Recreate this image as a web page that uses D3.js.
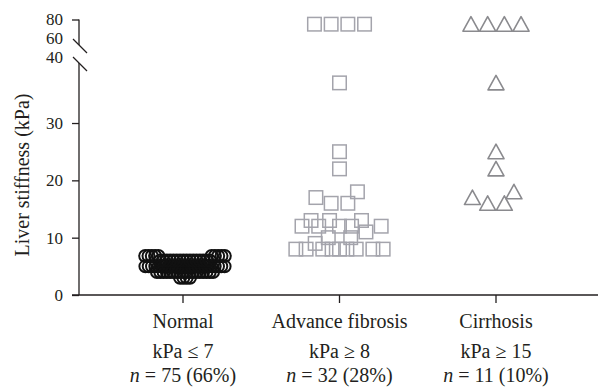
<!DOCTYPE html>
<html>
<head>
<meta charset="utf-8">
<script src="https://cdn.jsdelivr.net/npm/d3@7"></script>
<style>
  body { margin: 0; background: #fff; }
  svg { display: block; font-family: "Liberation Serif", "Times New Roman", serif; }
</style>
</head>
<body>
<svg id="chart" width="598" height="388"></svg>
<script>
// groups and their labels
const categories = ["Normal", "Advance fibrosis", "Cirrhosis"];
const thresholds = ["kPa \u2264 7", "kPa \u2265 8", "kPa \u2265 15"];
const counts = ["75 (66%)", "32 (28%)", "11 (10%)"];

// liver stiffness values (kPa)
const normalValues = [
  3, 3, 3, 3,
  4, 4, 4, 4, 4, 4, 4, 4, 4, 4, 4, 4, 4, 4, 4, 4, 4, 4,
  5, 5, 5, 5, 5, 5, 5, 5, 5, 5, 5, 5, 5, 5, 5, 5, 5, 5, 5, 5, 5, 5, 5, 5, 5,
  6, 6, 6, 6, 6, 6, 6, 6, 6, 6, 6, 6, 6, 6, 6, 6,
  6.8, 6.8, 6.8, 6.8, 6.8, 6.8, 6.8, 6.8, 6.8, 6.8
];
const fibrosisValues = [
  8, 8, 8, 8, 8, 8, 8, 8, 8, 9, 10, 10, 11, 12, 12, 12, 12, 12,
  13, 13, 13, 16, 16, 17, 18, 22, 25, 37, 75, 75, 75, 75
];
const cirrhosisValues = [16, 16, 17, 18, 22, 25, 37, 75, 75, 75, 75];

const yTicksLow = [0, 10, 20, 30];
const yTicksHigh = [40, 60, 80];

const svg = d3.select("#chart");
const ink = "#231f20";

const x = d3.scalePoint().domain(categories).range([183, 496]);
// broken y axis: lower part 0-40, upper part 40-80
const yLow = d3.scaleLinear().domain([0, 40]).range([295, 65.7]);
const yHigh = d3.scaleLinear().domain([40, 80]).range([57, 19.5]);
const yOf = v => v > 40 ? yHigh(v) : yLow(v);
const axisX = 79;

// dodge layout: each point goes to the nearest free x (elliptic spacing dx/dy),
// spacing shrinks when the column would get too wide
function dodge(values, DX, DY, maxHalf) {
  const sorted = values.slice().sort((a, b) => a - b);
  const rowCount = d3.rollup(sorted, v => v.length, d => d);
  const placed = [];
  for (const v of sorted) {
    const y = yOf(v);
    const n = rowCount.get(v);
    let k = 1, px;
    while (true) {
      const Dx = DX * k, Dy = DY * k;
      const bias = n % 2 === 0 ? -Dx / 2 : 0;
      const iv = [];
      for (const p of placed) {
        const dy = Math.abs(p.y - y);
        if (dy < Dy) {
          const w = Dx * Math.sqrt(1 - (dy / Dy) ** 2);
          iv.push([p.dx - w, p.dx + w]);
        }
      }
      const cands = [bias];
      iv.forEach(([a, b]) => cands.push(a, b));
      const free = cands.filter(c => iv.every(([a, b]) => c <= a + 1e-6 || c >= b - 1e-6));
      const rowSum = d3.sum(placed.filter(p => p.v === v), p => p.dx);
      free.sort((a, b) => {
        const da = Math.abs(a - bias), db = Math.abs(b - bias);
        if (Math.abs(da - db) > 1e-6) return da - db;
        return rowSum < 0 ? b - a : a - b;
      });
      px = free[0];
      if (Math.abs(px) <= maxHalf || k < 0.1) break;
      k *= 0.85;
    }
    placed.push({ v, dx: px, y });
  }
  return placed;
}

// axes
const gLow = svg.append("g").attr("transform", `translate(${axisX},0)`)
  .call(d3.axisLeft(yLow).tickValues(yTicksLow).tickSize(7).tickPadding(9));
const gHigh = svg.append("g").attr("transform", `translate(${axisX},0)`)
  .call(d3.axisLeft(yHigh).tickValues(yTicksHigh).tickSize(7).tickPadding(9));
gHigh.selectAll(".tick").filter(d => d !== 80).select("line").remove();
[gLow, gHigh].forEach(g => {
  g.select(".domain").remove();
  g.selectAll("line").attr("stroke", ink).attr("stroke-width", 1.3);
  g.selectAll("text").attr("fill", ink).style("font-size", "17px")
    .style("font-family", "'Liberation Serif', serif");
});

const axisLine = svg.append("g").attr("stroke", ink).attr("stroke-width", 1.3).attr("fill", "none");
axisLine.append("line").attr("x1", axisX).attr("x2", axisX).attr("y1", yHigh(80)).attr("y2", 45);
axisLine.append("line").attr("x1", axisX).attr("x2", axisX).attr("y1", 63).attr("y2", yLow(0));
axisLine.append("line").attr("x1", axisX - 6).attr("x2", axisX + 8).attr("y1", 39).attr("y2", 53);
axisLine.append("line").attr("x1", axisX - 6).attr("x2", axisX + 8).attr("y1", 57).attr("y2", 71);

const gx = svg.append("g").attr("transform", `translate(0,${yLow(0)})`);
gx.append("line").attr("x1", axisX - 7).attr("x2", 598).attr("stroke", ink).attr("stroke-width", 1.5);
gx.selectAll("line.tick").data(categories).join("line").attr("class", "tick")
  .attr("x1", d => x(d)).attr("x2", d => x(d)).attr("y1", 0).attr("y2", 8)
  .attr("stroke", ink).attr("stroke-width", 1.3);

const labels = svg.append("g").attr("fill", ink).style("font-size", "20px").attr("text-anchor", "middle");
labels.selectAll("text.cat").data(categories).join("text").attr("class", "cat")
  .attr("x", d => x(d)).attr("y", 328).text(d => d);
labels.selectAll("text.thr").data(thresholds).join("text").attr("class", "thr")
  .attr("x", (d, i) => x(categories[i])).attr("y", 358).text(d => d);
const nt = labels.selectAll("text.n").data(counts).join("text").attr("class", "n")
  .attr("x", (d, i) => x(categories[i])).attr("y", 382);
nt.append("tspan").style("font-style", "italic").text("n");
nt.append("tspan").text(d => " = " + d);

svg.append("text").attr("transform", "translate(29,175) rotate(-90)")
  .attr("text-anchor", "middle").attr("fill", ink).style("font-size", "20px")
  .text("Liver stiffness (kPa)");

// marks
const normal = dodge(normalValues, 3.3, 5.5, 60);
svg.append("g").selectAll("circle").data(normal).join("circle")
  .attr("cx", d => x(categories[0]) + 2 + d.dx).attr("cy", d => d.y).attr("r", 6)
  .attr("fill", "none").attr("stroke", "#111").attr("stroke-width", 2);

const fib = dodge(fibrosisValues, 16.7, 14, 45);
const sq = 13.5;
svg.append("g").selectAll("rect").data(fib).join("rect")
  .attr("x", d => x(categories[1]) + d.dx - sq / 2).attr("y", d => d.y - sq / 2)
  .attr("width", sq).attr("height", sq)
  .attr("fill", "none").attr("stroke", "#a4a4ac").attr("stroke-width", 1.5);

const cir = dodge(cirrhosisValues, 16.7, 14, 45);
const tri = "M0,-7.5L8,7L-8,7Z";
svg.append("g").selectAll("path").data(cir).join("path")
  .attr("transform", d => `translate(${x(categories[2]) + d.dx},${d.y})`)
  .attr("d", tri)
  .attr("fill", "none").attr("stroke", "#8a8a8e").attr("stroke-width", 1.6)
  .attr("stroke-linejoin", "round");
</script>
</body>
</html>
